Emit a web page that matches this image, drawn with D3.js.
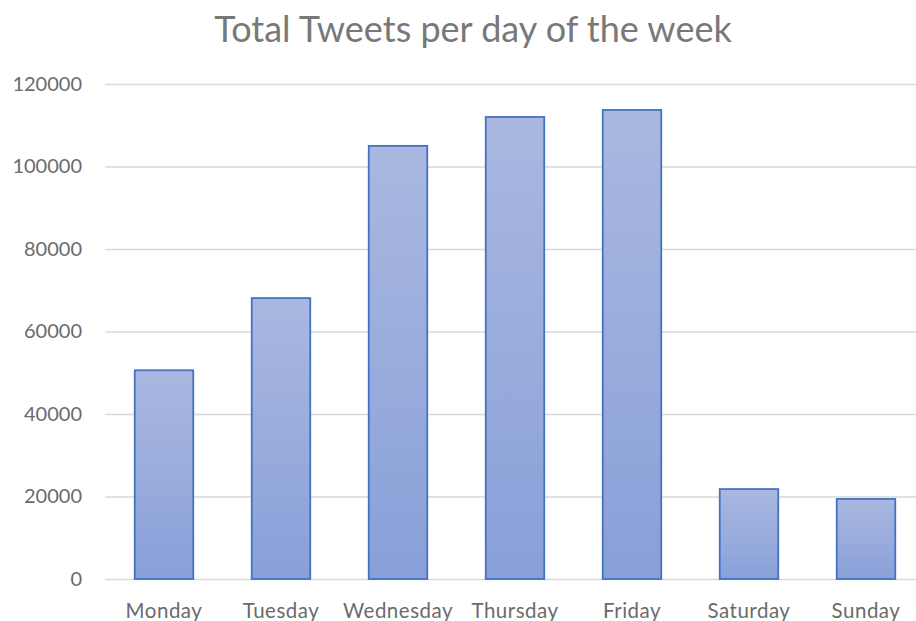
<!DOCTYPE html>
<html>
<head>
<meta charset="utf-8">
<script src="https://cdn.jsdelivr.net/npm/d3@7"></script>
<style>
  html, body { margin: 0; padding: 0; background: #fff; }
  svg { display: block; font-family: Lato, "Open Sans", sans-serif; }
</style>
</head>
<body>
<svg id="chart" width="916" height="621"></svg>
<script>
// Weekly tweet totals
const days = ["Monday", "Tuesday", "Wednesday", "Thursday", "Friday", "Saturday", "Sunday"];
const tweets = [50600, 68100, 105000, 112000, 113700, 21800, 19400];
const yTicks = [0, 20000, 40000, 60000, 80000, 100000, 120000];

const svg = d3.select("#chart");
const margin = { left: 105.5, right: -8.5, top: 84, bottom: 42 };
const W = 916, H = 621;
const labelColor = "#6b6b6b";

const x = d3.scaleBand()
  .domain(days)
  .range([margin.left, W - margin.right])
  .paddingInner(0.5)
  .paddingOuter(0.25);

const y = d3.scaleLinear()
  .domain([0, 120000])
  .range([H - margin.bottom, margin.top]);

// Vertical fill gradient for the bars
const defs = svg.append("defs");
const grad = defs.append("linearGradient")
  .attr("id", "barFill")
  .attr("x1", 0).attr("y1", 0).attr("x2", 0).attr("y2", 1);
grad.append("stop").attr("offset", "0%").attr("stop-color", "#aab8e0");
grad.append("stop").attr("offset", "100%").attr("stop-color", "#88a0d9");

// Title
svg.append("text")
  .attr("x", 473)
  .attr("y", 42)
  .attr("text-anchor", "middle")
  .attr("font-size", 36)
  .attr("fill", "#787878")
  .text("Total Tweets per day of the week");

// Gridlines + y tick labels
const yAxis = d3.axisLeft(y)
  .tickValues(yTicks)
  .tickSize(-(W - margin.right - margin.left))
  .tickPadding(23.5)
  .tickFormat(d3.format("d"));

const gy = svg.append("g")
  .attr("transform", `translate(${margin.left},0)`)
  .call(yAxis);
gy.select(".domain").remove();
gy.selectAll(".tick line").attr("stroke", "#d9d9d9").attr("stroke-width", 1.5);
gy.selectAll(".tick text")
  .attr("font-size", 20)
  .attr("fill", labelColor)
  .attr("font-family", "Lato, 'Open Sans', sans-serif");

// Bars
svg.append("g")
  .selectAll("rect")
  .data(days.map((d, i) => ({ day: d, value: tweets[i] })))
  .join("rect")
  .attr("x", d => x(d.day))
  .attr("y", d => y(d.value))
  .attr("width", x.bandwidth())
  .attr("height", d => y(0) - y(d.value))
  .attr("fill", "url(#barFill)")
  .attr("stroke", "#4472c4")
  .attr("stroke-width", 1.8);

// Category labels
const xAxis = d3.axisBottom(x).tickSize(0).tickPadding(24);
const gx = svg.append("g")
  .attr("transform", `translate(0,${y(0)})`)
  .call(xAxis);
gx.select(".domain").remove();
gx.selectAll(".tick text")
  .attr("font-size", 20.5)
  .attr("letter-spacing", 0.5)
  .attr("fill", labelColor)
  .attr("font-family", "Lato, 'Open Sans', sans-serif");
</script>
</body>
</html>
